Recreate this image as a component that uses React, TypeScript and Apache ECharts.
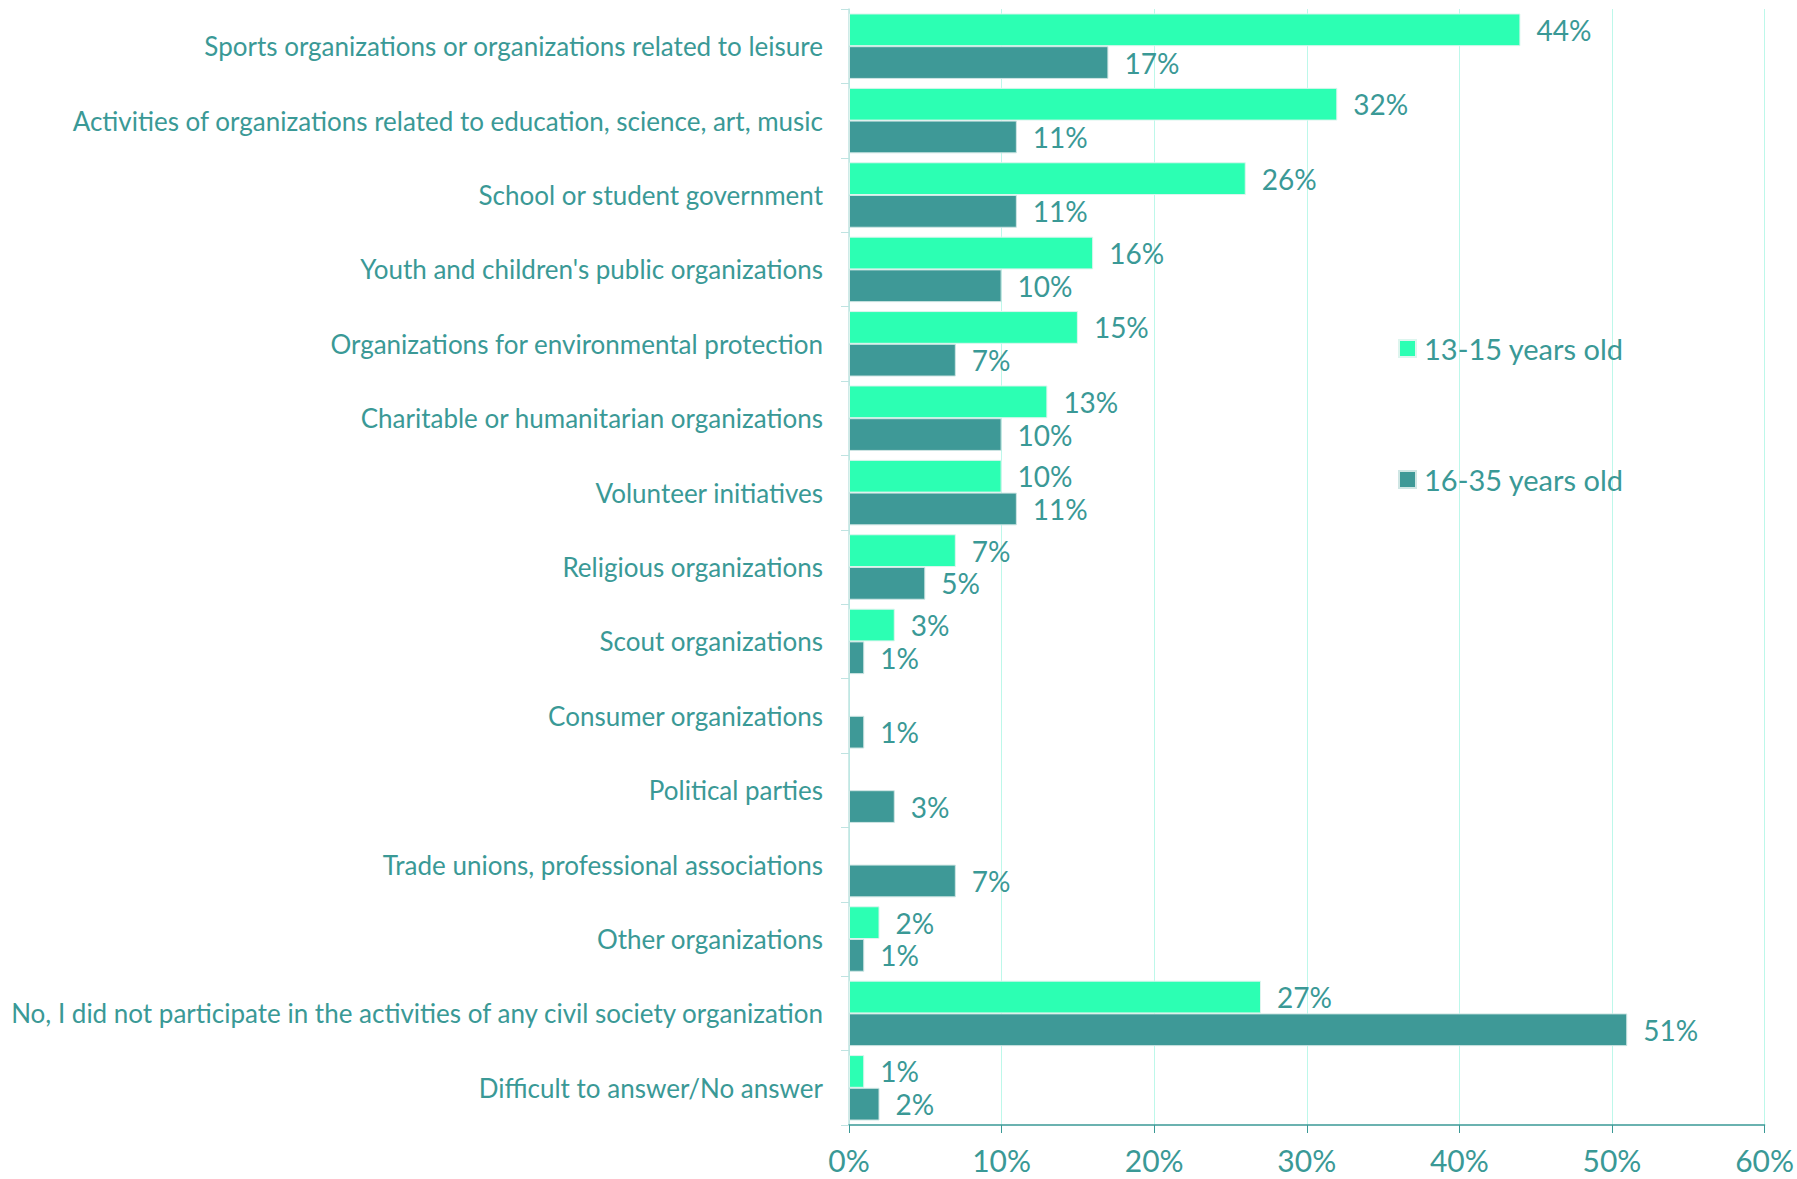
import React, { useEffect, useRef } from "react";
import * as echarts from "echarts";

const categories = [
  "Sports organizations or organizations related to leisure",
  "Activities of organizations related to education, science, art, music",
  "School or student government",
  "Youth and children's public organizations",
  "Organizations for environmental protection",
  "Charitable or humanitarian organizations",
  "Volunteer initiatives",
  "Religious organizations",
  "Scout organizations",
  "Consumer organizations",
  "Political parties",
  "Trade unions, professional associations",
  "Other organizations",
  "No, I did not participate in the activities of any civil society organization",
  "Difficult to answer/No answer",
];

const youngLabel = "13-15 years old";
const olderLabel = "16-35 years old";

const young: (number | null)[] = [44, 32, 26, 16, 15, 13, 10, 7, 3, null, null, null, 2, 27, 1];
const older: number[] = [17, 11, 11, 10, 7, 10, 11, 5, 1, 1, 3, 7, 1, 51, 2];

const xTicks = [0, 10, 20, 30, 40, 50, 60];

const TEXT = "#3A9996";
const GREEN = "#2CFFB3";
const TEAL = "#3E9997";
const FONT = "Lato, 'Open Sans', sans-serif";

export default function App() {
  const ref = useRef<HTMLDivElement>(null);
  useEffect(() => {
    if (!ref.current) return;
    const chart = echarts.init(ref.current, undefined, { renderer: "svg" });
    const labelStyle = {
      show: true,
      position: "right" as const,
      distance: 16,
      color: TEXT,
      fontSize: 28,
      fontFamily: FONT,
      formatter: (p: any) => (p.value == null ? "" : p.value + "%"),
    };
    chart.setOption({
      animation: false,
      backgroundColor: "#ffffff",
      textStyle: { fontFamily: FONT },
      grid: { left: 849, right: 28, top: 9, bottom: 54, containLabel: false },
      legend: {
        orient: "vertical",
        left: 1393,
        top: 329,
        itemWidth: 17,
        itemHeight: 17,
        itemGap: 102,
        icon: "rect",
        textStyle: { color: TEXT, fontSize: 29, fontFamily: FONT, padding: [0, 0, 0, 3] },
        data: [youngLabel, olderLabel],
      },
      xAxis: {
        type: "value",
        min: xTicks[0],
        max: xTicks[xTicks.length - 1],
        interval: 10,
        axisLine: { show: true, lineStyle: { color: TEXT, width: 1.5 } },
        axisTick: { show: true, length: 8, lineStyle: { color: TEXT } },
        splitLine: { show: true, lineStyle: { color: "#BDF8EA", width: 1 } },
        axisLabel: {
          color: TEXT,
          fontSize: 30,
          fontFamily: FONT,
          margin: 20,
          formatter: (v: number) => v + "%",
        },
      },
      yAxis: {
        type: "category",
        data: categories,
        inverse: true,
        axisLine: { show: true, lineStyle: { color: "#BFE3E1", width: 1.5 } },
        axisTick: { show: true, length: 8, lineStyle: { color: "#BFE3E1" } },
        axisLabel: {
          color: TEXT,
          fontSize: 26,
          fontFamily: FONT,
          margin: 26,
        },
      },
      series: [
        {
          name: youngLabel,
          type: "bar",
          data: young,
          barGap: "0%",
          barCategoryGap: "12%",
          itemStyle: { color: GREEN, borderColor: "#DDF5EE", borderWidth: 1 },
          label: labelStyle,
        },
        {
          name: olderLabel,
          type: "bar",
          data: older,
          barGap: "0%",
          barCategoryGap: "12%",
          itemStyle: { color: TEAL, borderColor: "#CFE6E4", borderWidth: 1 },
          label: labelStyle,
        },
      ],
    });
    return () => chart.dispose();
  }, []);
  return <div ref={ref} style={{ width: 1797, height: 1179, position: "absolute", left: 0, top: 0 }} />;
}
